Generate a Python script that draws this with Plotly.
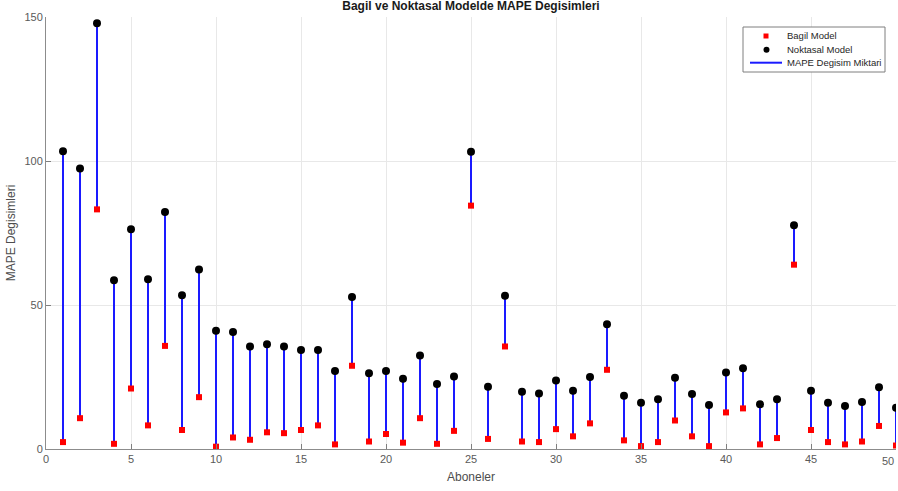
import plotly.graph_objects as go

aboneler = list(range(1, 51))
bagil = [2.4, 10.7, 83.2, 1.8, 21.0, 8.2, 35.8, 6.6, 18.0, 0.8,
         4.0, 3.2, 5.8, 5.5, 6.6, 8.2, 1.6, 28.9, 2.6, 5.2,
         2.2, 10.7, 1.8, 6.3, 84.5, 3.5, 35.6, 2.6, 2.4, 6.9,
         4.4, 8.9, 27.5, 3.0, 1.0, 2.4, 9.9, 4.4, 1.0, 12.7,
         14.1, 1.6, 3.8, 64.0, 6.6, 2.4, 1.6, 2.6, 8.0, 1.2]
noktasal = [103.4, 97.4, 147.8, 58.6, 76.3, 58.9, 82.3, 53.4, 62.3, 41.1,
            40.6, 35.6, 36.4, 35.6, 34.4, 34.4, 27.1, 52.8, 26.3, 27.1,
            24.4, 32.5, 22.6, 25.2, 103.2, 21.6, 53.2, 19.9, 19.3, 23.8,
            20.2, 25.0, 43.3, 18.5, 16.1, 17.3, 24.7, 19.1, 15.3, 26.6,
            28.0, 15.5, 17.3, 77.7, 20.2, 16.1, 14.9, 16.3, 21.4, 14.3]

title = "Bagil ve Noktasal Modelde MAPE Degisimleri"
x_title = "Aboneler"
y_title = "MAPE Degisimleri"
x_ticks = [0, 5, 10, 15, 20, 25, 30, 35, 40, 45, 50]
y_ticks = [0, 50, 100, 150]
legend_names = ["Bagil Model", "Noktasal Model", "MAPE Degisim Miktari"]

W, H = 898, 491
ML, MR, MT, MB = 46, 2, 17, 42
PW, PH = W - ML - MR, H - MT - MB


def px(x):
    return (x - ML) / PW


def py(y):
    return 1 - (y - MT) / PH


# stems
sx, sy = [], []
for a, b, n in zip(aboneler, bagil, noktasal):
    sx += [a, a, None]
    sy += [b, n, None]

fig = go.Figure()
fig.add_trace(go.Scatter(x=sx, y=sy, mode="lines", name=legend_names[2],
                         line=dict(color="#1a1aff", width=2), showlegend=False))
fig.add_trace(go.Scatter(x=aboneler, y=bagil, mode="markers", name=legend_names[0],
                         marker=dict(symbol="square", color="#ff0000", size=6,
                                     line=dict(width=0)), showlegend=False))
fig.add_trace(go.Scatter(x=aboneler, y=noktasal, mode="markers", name=legend_names[1],
                         marker=dict(symbol="circle", color="#000000", size=8,
                                     line=dict(width=0)), showlegend=False))

font_family = "Liberation Sans, Arial, sans-serif"

# legend drawn manually (compact MATLAB-style box)
shapes = [
    dict(type="rect", xref="paper", yref="paper", x0=px(743), x1=px(885),
         y0=py(72), y1=py(27), line=dict(color="#7f7f7f", width=1), fillcolor="white", layer="above"),
    dict(type="rect", xref="paper", yref="paper", x0=px(763.5), x1=px(768.5),
         y0=py(38.5), y1=py(33.5), line=dict(width=0), fillcolor="#ff0000", layer="above"),
    dict(type="circle", xref="paper", yref="paper", x0=px(763.5), x1=px(769.5),
         y0=py(52.7), y1=py(46.7), line=dict(width=0), fillcolor="#000000", layer="above"),
    dict(type="line", xref="paper", yref="paper", x0=px(750), x1=px(782),
         y0=py(62.7), y1=py(62.7), line=dict(color="#1a1aff", width=2), layer="above"),
]
annotations = []
for name, yc in zip(legend_names, [35.7, 49.7, 62.7]):
    annotations.append(dict(text=name, xref="paper", yref="paper", x=px(785), y=py(yc),
                            xanchor="left", yanchor="middle", showarrow=False,
                            font=dict(family=font_family, size=9.5, color="#262626")))
# last x tick label, kept inside the window
annotations.append(dict(text=str(x_ticks[-1]), xref="x", yref="paper", x=x_ticks[-1], y=py(461),
                        xanchor="right", yanchor="middle", showarrow=False,
                        font=dict(family=font_family, size=11, color="#5a5a5a")))

fig.update_layout(
    width=W, height=H,
    margin=dict(l=ML, r=MR, t=MT, b=MB),
    paper_bgcolor="white", plot_bgcolor="white",
    font=dict(family=font_family, size=11, color="#4d4d4d"),
    title=dict(text="<b>" + title + "</b>", x=px(471), xanchor="center", xref="paper",
               y=1 - 1.5 / H, yanchor="top",
               font=dict(family=font_family, size=12, color="#1a1a1a")),
    showlegend=False,
    shapes=shapes,
    annotations=annotations,
)
fig.update_xaxes(range=[0, 50], tickvals=x_ticks[:-1], ticks="inside", ticklen=5,
                 tickcolor="#7f7f7f", showline=True, linecolor="#8c8c8c", linewidth=1,
                 mirror=False, showgrid=True, gridcolor="#e8e8e8", zeroline=False,
                 title=dict(text=x_title, standoff=8, font=dict(size=12, color="#4d4d4d")),
                 tickfont=dict(size=11, color="#5a5a5a"))
fig.update_yaxes(range=[0, 150], tickvals=y_ticks, ticks="inside", ticklen=5,
                 tickcolor="#7f7f7f", showline=True, linecolor="#8c8c8c", linewidth=1,
                 mirror=False, showgrid=True, gridcolor="#e8e8e8", zeroline=False,
                 title=dict(text=y_title, standoff=6, font=dict(size=12, color="#4d4d4d")),
                 tickfont=dict(size=11, color="#5a5a5a"))

fig.write_html("out.html")
